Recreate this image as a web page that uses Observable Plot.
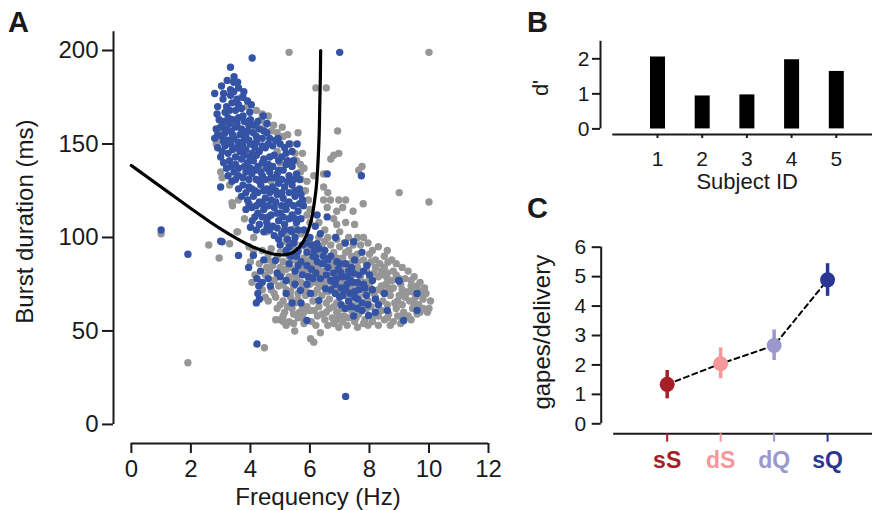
<!DOCTYPE html>
<html><head><meta charset="utf-8">
<script src="https://cdn.jsdelivr.net/npm/d3@7"></script>
<script src="https://cdn.jsdelivr.net/npm/@observablehq/plot@0.6"></script>
<style>
body{margin:0;background:#fff;}
#wrap{position:relative;width:872px;height:510px;font-family:"Liberation Sans",Arial,Helvetica,sans-serif;overflow:hidden;}
.panel{position:absolute;}
.letter{position:absolute;font-weight:bold;font-size:29px;line-height:1;color:#1a1a1a;}
</style></head><body>
<div id="wrap">
<div class="panel" id="pa" style="left:0;top:0"></div>
<div class="panel" id="pb" style="left:520px;top:0"></div>
<div class="panel" id="pc" style="left:520px;top:200px"></div>
<div class="letter" style="left:8px;top:8px">A</div>
<div class="letter" style="left:527px;top:8px">B</div>
<div class="letter" style="left:527px;top:194px">C</div>
</div>
<script>
const FONT = '"Liberation Sans", Arial, Helvetica, sans-serif';
const INK = "#1a1a1a";
const GRAY = "#969696";
const BLUE = "#3553a5";

// ---- Panel A data: [frequency Hz, burst duration ms]
const grayPts = [
[5.3,199],[10.0,199],[10.0,119],[9.0,124],[6.2,180],[6.55,180],[6.93,157],[6.97,145],[6.8,144],[6.7,142],[7.75,138],[7.64,136],[1.9,33],[1.0,102],[4.47,41],[6.02,45.8],[6.13,44],[5.49,50],[2.95,89],[2.6,96],[3.4,117],[4.55,103],[3.3,96.6],[3.55,103],[4.11,100],
[3.89,170],[4.78,160],[5.07,159],[4.36,163],[2.93,156],[3.1,153],[5.25,155],[5.1,154],[3.05,132],[3.38,118.6],[3.57,103],[4.45,138.5],[5.0,140],[5.68,139],[5.68,135],[6.13,133],[5.7,131],[5.5,145],[4.9,146],[4.2,168],[4.5,160],[3.7,175],[4.0,159],[3.2,150],[2.85,150],[4.7,130],[5.85,125],[5.9,112],
[4.7,157],[4.9,156],[5.35,150],[5.55,141],[5.8,137],[5.9,130],[5.95,120],[6.0,115],[2.9,152],[3.0,135],[3.3,128],[4.6,165],[4.4,166],[3.6,120],[3.8,110],[5.6,156],[5.75,145],
[6.46,134],[6.46,127],[6.46,120],[6.69,120],[6.97,120],[7.2,120],[6.58,116],[6.9,114],[7.45,114],[7.79,118],[7.5,107],[6.9,107],[7.0,103],[6.6,124],[6.8,110],[7.2,108],[7.3,100],[7.6,100],[7.8,100],[6.5,104],[6.3,108],[6.6,100],[7.1,116],
[5.5,105],[5.7,102],[6.0,108],[5.2,101],
[4.0,87],[4.15,80],[4.05,76],[4.4,72],[4.5,68],[4.1,93],[3.95,95],
[5.2,98],[5.5,97],[6.5,98],[6.7,96],[7.0,95],[7.3,93],[7.7,96],[8.1,93],[8.6,93],
[4.6,91],[4.9,89],[5.6,92],[5.9,94],[6.3,91],[6.8,92],[7.1,89],[7.4,90],[7.8,88],[8.0,91],[4.4,93],
[4.3,86],[4.55,84],[4.75,85],[5.1,87],[5.35,84],[5.65,86],[5.95,88],[6.25,84],[6.5,87],[6.75,85],[7.05,83],[7.35,86],[7.6,84],[7.9,82],[8.2,84],[8.62,86.8],[8.4,82],[8.8,82],
[4.5,80],[4.8,77],[5.05,81],[5.3,79],[5.55,78],[5.8,81],[6.05,79],[6.3,80],[6.55,78],[6.85,80],[7.15,78],[7.45,80],[7.7,79],[8.0,78],[8.3,79],[8.6,78],[8.9,80],[9.2,78],
[4.7,72],[4.95,74],[5.2,72],[5.45,74],[5.75,73],[6.0,75],[6.25,72],[6.5,75],[6.8,74],[7.1,75],[7.4,74],[7.7,73],[8.0,74],[8.3,72],[8.55,75],[8.8,73],[9.1,72],[9.4,74],[9.6,74],[9.7,71],
[4.6,66],[4.85,68],[5.1,66],[5.35,68],[5.6,67],[5.85,69],[6.1,66],[6.4,69],[6.65,67],[6.9,65],[7.15,69],[7.4,64],[7.65,68],[7.95,66],[8.2,68],[8.45,66],[8.7,69],[8.95,66],[9.2,68],[9.5,65],[9.8,67],
[4.9,62],[5.15,60],[5.4,62],[5.65,60],[5.9,63],[6.15,61],[6.4,59],[6.65,62],[6.9,60],[7.15,58],[7.4,61],[7.65,59],[7.9,62],[8.15,58],[8.4,61],[8.65,59],[8.9,62],[9.15,60],[9.45,62],[9.8,62],[10.0,62],
[5.0,56],[5.3,55],[5.6,57],[6.05,55],[6.5,56],[6.8,54],[7.1,55],[7.5,55],[7.8,54],[8.1,55],[8.5,56],[8.8,55],[9.1,57],
[6.35,49],[6.97,52],[4.85,56],[5.2,53],
[5.0,92],[5.3,90],[5.8,89],[6.1,93],[6.4,95],[6.9,89],[7.2,92],[7.6,91],[4.6,88],[5.0,84],[5.45,88],[5.8,84],[6.1,86],[6.4,82],[6.7,81],[7.0,87],[7.3,83],[7.6,87],[7.9,85],[8.2,88],[8.5,84],
[4.65,82],[5.2,83],[5.5,80],[5.95,78],[6.2,76],[6.45,77],[7.0,77],[7.3,77],[7.6,76],[7.85,76],[8.15,81],[8.45,80],[8.75,77],[9.05,75],
[4.8,70],[5.1,75],[5.35,71],[5.6,70],[5.9,71],[6.15,70],[6.6,71],[6.95,71],[7.25,71],[7.55,72],[7.85,70],[8.15,70],[8.45,71],[8.7,72],[9.0,69],[9.3,71],[9.55,68],
[5.0,64],[5.25,63],[5.5,65],[5.75,63],[6.0,61],[6.3,63],[6.55,65],[6.8,63],[7.05,62],[7.3,65],[7.55,63],[7.8,65],[8.05,63],[8.3,64],[8.6,64],[8.85,65],[9.1,64],[9.35,66],[9.65,64],
[5.1,58],[5.45,59],[5.75,57],[6.25,58],[6.55,60],[6.75,57],[7.0,58],[7.3,57],[7.55,57],[7.85,56],[8.3,58],[8.6,57],[8.95,58],[9.3,58],[9.6,59],[5.8,60],
[4.7,94],[5.4,94],[6.0,97],[6.3,100],[6.9,99],[7.15,97],[7.45,96],[7.95,97],[8.3,95],[8.5,90],[8.75,88],[8.9,86],[9.1,84],[9.3,82],[9.5,79],[9.7,76],[9.85,73],[9.9,70],[10.05,66],[9.95,60],[9.7,60],[9.4,56],[9.05,54],[8.7,53],[8.3,53],[7.95,53],[7.6,52],[7.25,53],[6.9,56],[6.6,53],[6.2,53],[5.8,54],[5.45,54],[5.1,55],
[5.3,85],[5.6,83],[5.95,82],[6.65,88],[7.15,86],[7.5,82],[8.05,87],[8.35,86],[8.6,81],[9.0,78],[9.4,77],
[4.9,79],[5.4,76],[5.7,76],[6.35,74],[6.7,76],[7.0,72],[7.3,73],[7.6,74],[7.95,71],[8.4,74],[8.65,73],[9.2,70],[9.45,71],[9.7,70]
];

const bluePts = [
[4.06,196],[3.33,191],[3.22,184],[3.44,183],[3.57,183],[3.03,181],[2.80,177],[3.33,179],[3.44,178],[3.78,178],[3.75,175],[3.08,174],[3.33,176],[3.38,172],[3.55,174],[4.03,171],[3.2,170],[3.5,168],[3.7,169],[2.88,166],[3.98,167],[4.43,165],[4.56,161],
[2.95,163],[3.1,162],[3.25,164],[3.4,163],[3.6,164],[3.8,162],[4.0,163],[4.15,160],[2.85,158],[3.0,159],[3.2,158],[3.35,157],[3.5,159],[3.7,158],[3.9,157],[4.1,156],[4.3,158],[2.8,153],[3.05,154],[3.25,152],[3.45,153],[3.6,151],[3.8,152],[4.0,150],[4.2,151],[4.4,153],[2.9,148],[3.15,149],[3.4,147],[3.65,146],[3.85,147],[4.05,145],[4.3,146],[4.5,148],[4.65,153],[4.93,153],[4.75,149],[5.0,150],[5.3,150],[5.57,150],
[3.0,143],[3.1,140],[3.3,141],[3.5,139],[3.2,137],[3.45,135],[3.7,142],[3.9,140],[4.1,141],[4.25,138],[4.45,142],[4.6,139],[4.8,144],[5.05,143],[5.25,141],[5.4,138],[3.6,133],[3.85,135],[4.05,134],[4.2,131],[4.4,133],[4.65,135],[4.85,132],[5.1,136],[5.3,133],[5.55,134],[3.38,130],[3.0,127],[3.75,128],[3.95,127],[4.15,125],[4.35,128],[4.55,126],[4.75,127],[4.95,129],[5.15,127],[5.4,128],[5.65,126],[3.7,122],[3.9,120],[4.1,122],[4.3,119],[4.5,121],[4.7,120],[4.9,123],[5.1,121],[5.3,119],[5.5,122],[5.75,120],
[3.85,115],[4.05,116],[4.25,113],[4.45,115],[4.6,111],[4.8,116],[5.0,113],[5.2,115],[5.4,112],[5.6,114],[5.78,117],[4.06,109],[4.3,107],[4.55,108],[4.75,106],[4.95,109],[5.15,107],[5.35,104],[5.55,108],[5.7,110],[4.0,105.5],[4.56,105.5],[4.8,101],[5.05,102],[5.25,99],[5.5,100],[5.0,96],[5.3,95],
[2.9,170],[3.15,167],[3.3,168],[3.6,171],[3.9,173],[3.45,186],[3.6,180],[3.1,177],
[3.05,160],[3.3,161],[3.55,161],[3.75,165],[3.95,160],[4.25,162],[4.45,157],[2.9,155],[3.15,156],[3.4,155],[3.65,155],[3.85,155],[4.2,154],[4.55,156],
[3.1,151],[3.35,150],[3.55,148],[3.75,149],[3.95,152],[4.15,148],[4.4,149],[4.6,150],[4.85,152],[5.15,148],[5.4,146],
[3.05,146],[3.25,145],[3.5,143],[3.8,144],[4.0,143],[4.2,144],[4.4,140],[4.65,143],[4.95,141],[5.2,145],
[3.35,138],[3.6,137],[3.8,138],[4.0,137],[4.15,136],[4.35,135],[4.55,137],[4.75,138],[4.95,136],[5.2,139],[5.45,141],
[3.25,133],[3.5,131],[3.75,132],[3.95,131],[4.3,130],[4.5,131],[4.7,132],[4.9,134],[5.05,131],[5.25,130],[5.45,131],[5.65,131],
[3.6,126],[3.85,124],[4.05,126],[4.25,124],[4.45,125],[4.65,124],[4.85,125],[5.05,124],[5.3,124],[5.5,125],[5.7,123],
[3.95,118],[4.2,117],[4.4,118],[4.6,117],[4.85,119],[5.05,117],[5.25,118],[5.45,117],[5.65,118],
[4.15,111],[4.4,111],[4.7,112],[4.9,113],[5.1,111],[5.3,110],[5.5,110],
[4.2,104],[4.45,103],[4.65,104],[4.9,105],[5.15,104],[5.4,103],[5.6,104],[5.2,93],[5.45,97],[4.95,99],
[5.8,104],[6.0,100],[6.18,106],[6.35,102],[6.24,96.6],[6.86,100],[7.19,97],[7.47,97.7],[5.75,96],[5.9,92],[6.1,90],[6.18,89.5],[6.41,86],[5.55,90],[5.7,87],[5.9,85],[6.05,83],[5.3,86],[5.5,82],
[6.6,84],[6.8,81],[7.0,86],[7.1,79],[7.3,82],[6.7,77],[6.9,78],[7.92,85],[7.36,77],[7.6,76],[7.8,75],[8.1,77],[6.52,72.6],[6.7,72],[7.2,72],[7.5,71],[6.02,70],[6.3,66.3],[7.0,68],[7.3,66],[7.5,68],[7.75,65],[7.9,69],[8.1,72],[7.19,62],[7.75,61],[8.6,61],[7.47,58],[7.97,58.3],[8.98,77],[9.15,55.6],[9.6,70],[9.6,61],[9.0,76.7],[8.3,64],[8.5,70],[8.2,60],
[6.5,93],[6.7,90],[7.5,88],[7.75,92],[8.0,80],
[5.6,93],[5.85,97],[6.05,96],[6.3,94],[6.15,93],[6.45,90],[6.6,88],[6.9,87],[7.2,86],[7.4,84],[7.05,81],[6.55,80],[6.95,83],[7.25,79],[7.45,81],[7.65,80],[7.8,82],[6.85,75],[7.05,73],[7.25,75],[7.45,76],[7.65,72],[7.85,73],[6.85,70],[7.1,69],[7.35,70],[7.6,67],[7.95,64],[8.2,67],[7.05,64],[7.4,63],[7.6,62],[5.75,80],[5.95,79],[6.2,81],[6.35,78],[5.6,85],[5.35,90],[6.25,87],
[3.05,97.7],[3.6,90.4],[4.1,90.4],[4.45,88],[4.84,87.7],[3.94,84],[4.34,82],[4.9,81],[5.0,79],[4.22,78],[4.28,74],[4.67,74],[4.25,70],[4.3,67],[4.2,65],[4.4,76],[4.6,78],[5.2,77],[5.5,75],[5.68,71.7],[5.9,55.6],[5.4,65],[5.7,65],[5.2,70],[5.9,75],[6.1,78],
[1.0,104],[1.9,91],[7.0,199],[7.2,15],[4.22,43],[7.73,133],[6.58,134],[6.58,111],[6.24,112],[3.0,98]
];

// decision boundary
const curveHz = [0,0.5,1.0,1.5,2.0,2.5,3.0,3.5,4.0,4.5,4.9,5.2,5.45,5.65,5.8,5.95,6.07,6.15,6.22,6.27,6.31,6.33,6.35,6.36];
const curveMs = [138.5,132.7,127,121.2,115.5,109.9,104.6,99.8,95.6,92.4,90.8,90.8,92.2,95,98.5,104,111,119,128,140,155,170,185,200];

const xTicksA = [0,2,4,6,8,10,12];
const yTicksA = [0,50,100,150,200];

// ---- Panel B data
const subjectIds = [1,2,3,4,5];
const dPrime = [2.05,0.94,0.97,1.97,1.64];
const yTicksB = [0,1,2];

// ---- Panel C data
const stimNames = ["sS","dS","dQ","sQ"];
const gapesMean = [1.34,2.04,2.66,4.89];
const gapesLo = [0.85,1.53,2.15,4.33];
const gapesHi = [1.81,2.58,3.19,5.44];
const stimColors = ["#a61e26","#f4989b","#9a98cc","#2a3792"];
const yTicksC = [0,1,2,3,4,5,6];

const curve = curveHz.map((h,i)=>({hz:h, ms:curveMs[i]}));

const plotA = Plot.plot({
  width: 500, height: 510,
  marginLeft: 113, marginRight: 12, marginTop: 31.3, marginBottom: 67,
  x: {domain: [-0.6, 12]},
  y: {domain: [-10.2, 210]},
  style: {fontFamily: FONT, color: INK, background: "transparent", overflow: "visible"},
  marks: [
    Plot.dot(grayPts, {x: d=>d[0], y: d=>d[1], r: 3.7, fill: GRAY}),
    Plot.dot(bluePts, {x: d=>d[0], y: d=>d[1], r: 3.7, fill: BLUE}),
    Plot.line(curve, {x: "hz", y: "ms", stroke: "black", strokeWidth: 3.2, curve: "catmull-rom"}),
    Plot.ruleX([-0.6], {y1: 0, y2: 210, stroke: INK, strokeWidth: 2}),
    Plot.ruleY([-10.2], {x1: 0, x2: 12, stroke: INK, strokeWidth: 2}),
    Plot.axisY(yTicksA, {tickSize: 11, tickPadding: 4, fontSize: 24, strokeWidth: 2, stroke: INK, fill: INK, label: null}),
    Plot.axisX(xTicksA, {tickSize: 10, tickPadding: 6, fontSize: 24, strokeWidth: 2, stroke: INK, fill: INK, label: null}),
    Plot.text(["Frequency (Hz)"], {text: d=>d, frameAnchor: "bottom", textAnchor: "middle", lineAnchor: "middle", dx: 17, dy: 54, fontSize: 24, fill: INK}),
    Plot.text(["Burst duration (ms)"], {text: d=>d, frameAnchor: "left", textAnchor: "middle", lineAnchor: "middle", rotate: -90, dx: -88, dy: -16, fontSize: 24, fill: INK})
  ]
});
document.getElementById("pa").appendChild(plotA);

const barsB = subjectIds.map((id,i)=>({id, d: dPrime[i]}));
const plotB = Plot.plot({
  width: 352, height: 200,
  marginLeft: 80, marginRight: 0, marginTop: 40.8, marginBottom: 66,
  x: {domain: [-0.275, 5.81]},
  y: {domain: [-0.16, 2.5]},
  style: {fontFamily: FONT, color: INK, background: "transparent", overflow: "visible"},
  marks: [
    Plot.ruleX(barsB, {x: "id", y1: 0, y2: "d", stroke: "black", strokeWidth: 15}),
    Plot.ruleX([-0.275], {y1: 0, y2: 2.5, stroke: INK, strokeWidth: 2}),
    Plot.ruleY([-0.16], {x1: 0, x2: 5.81, stroke: INK, strokeWidth: 2}),
    Plot.axisY(yTicksB, {tickSize: 8, tickPadding: 3, fontSize: 21, strokeWidth: 2, stroke: INK, fill: INK, label: null}),
    Plot.axisX(subjectIds, {tickSize: 4, tickPadding: 13, fontSize: 21, strokeWidth: 2, stroke: INK, fill: INK, label: null}),
    Plot.text(["Subject ID"], {text: d=>d, frameAnchor: "bottom", textAnchor: "middle", lineAnchor: "middle", dx: 10.7, dy: 47, fontSize: 22, fill: INK}),
    Plot.text(["d'"], {text: d=>d, frameAnchor: "left", textAnchor: "middle", lineAnchor: "middle", rotate: -90, dx: -60, dy: 0, fontSize: 22, fill: INK})
  ]
});
document.getElementById("pb").appendChild(plotB);

const rowsC = stimNames.map((name,i)=>({i, name, m: gapesMean[i], lo: gapesLo[i], hi: gapesHi[i], c: stimColors[i]}));
const plotC = Plot.plot({
  width: 352, height: 310,
  marginLeft: 80.7, marginRight: 0, marginTop: 46.7, marginBottom: 76.7,
  x: {domain: [-1.234, 3.84], axis: null},
  y: {domain: [-0.34, 6]},
  color: {type: "identity"},
  style: {fontFamily: FONT, color: INK, background: "transparent", overflow: "visible"},
  marks: [
    Plot.line(rowsC, {x: "i", y: "m", stroke: "black", strokeWidth: 2, strokeDasharray: "5,4"}),
    Plot.ruleX(rowsC, {x: "i", y1: "lo", y2: "hi", stroke: "c", strokeWidth: 3.5}),
    Plot.dot(rowsC, {x: "i", y: "m", r: 7.5, fill: "c"}),
    Plot.ruleX([-1.234], {y1: 0, y2: 6, stroke: INK, strokeWidth: 2}),
    Plot.ruleY([-0.34], {x1: -1, x2: 3.84, stroke: INK, strokeWidth: 2}),
    Plot.axisY(yTicksC, {tickSize: 9, tickPadding: 6, fontSize: 21, strokeWidth: 2, stroke: INK, fill: INK, label: null}),
    Plot.ruleX(rowsC, {x: "i", y1: -0.34, y2: -0.625, stroke: "c", strokeWidth: 2}),
    Plot.text(rowsC, {x: "i", text: "name", fill: "c", frameAnchor: "bottom", textAnchor: "middle", lineAnchor: "middle", dy: 27, fontSize: 23, fontWeight: "bold"}),
    Plot.text(["gapes/delivery"], {text: d=>d, frameAnchor: "left", textAnchor: "middle", lineAnchor: "middle", rotate: -90, dx: -59, dy: -8.3, fontSize: 24, fill: INK})
  ]
});
document.getElementById("pc").appendChild(plotC);
</script>
</body></html>
